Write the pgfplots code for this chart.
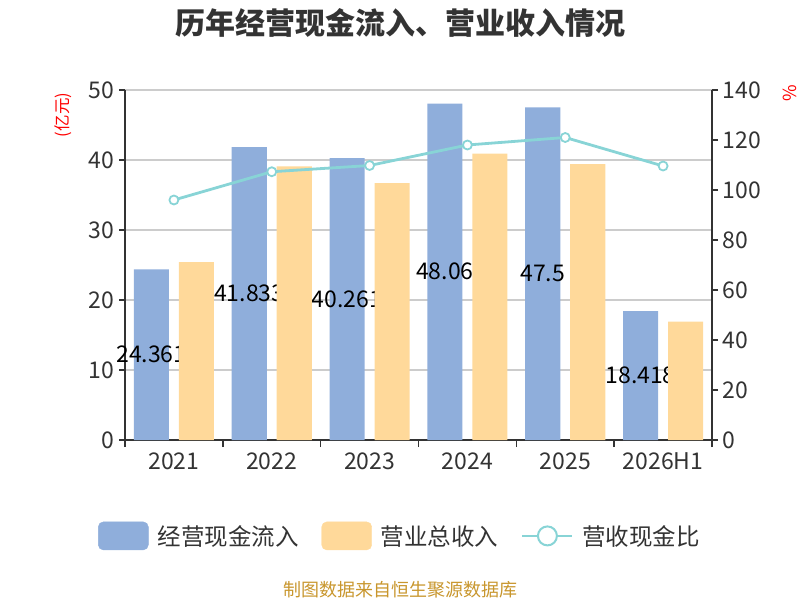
\documentclass[border=0pt]{standalone}
\usepackage{fontspec}
\setmainfont{Noto Sans CJK SC}
\usepackage{pgfplots}
\pgfplotsset{compat=1.18}
\definecolor{cblue}{HTML}{8FAEDB}
\definecolor{corange}{HTML}{FFD99A}
\definecolor{cteal}{HTML}{88D4D6}
\definecolor{ctext}{HTML}{333333}
\definecolor{cgrid}{HTML}{CCCCCC}
\definecolor{csrc}{HTML}{C8962D}
\newcommand{\tickfont}{\fontsize{23}{23}\selectfont}
\pgfplotsset{base/.style={
  at={(125pt,160pt)}, anchor=south west,
  scale only axis, width=587pt, height=350pt,
  xmin=-0.5, xmax=5.5, clip=false,
  /pgf/number format/assume math mode=true,
  ticklabel style={font=\tickfont, text=ctext},
}}
\begin{document}
\begin{tikzpicture}[x=1pt,y=1pt]
\path[use as bounding box] (0,0) rectangle (800,600);
% axis 1: frame, grid, first series and its labels
\begin{axis}[base, ymin=0, ymax=50,
  axis x line*=bottom, axis y line*=left,
  axis line style={draw=ctext, line width=1.4pt},
  xtick={0,...,5}, xticklabels={2021,2022,2023,2024,2025,2026H1},
  major x tick style={draw=none},
  minor xtick={-0.5,0.5,...,5.5},
  minor x tick style={draw=ctext, line width=1.4pt},
  minor tick length=7pt,
  major tick length=6pt,
  tick align=outside,
  ytick={0,10,...,50},
  ytick style={draw=ctext, line width=1.4pt},
  ymajorgrids, major grid style={draw=cgrid, line width=1.3pt},
  xticklabel style={yshift=-3pt},
  yticklabel style={xshift=-1pt},
]
\addplot[ybar, bar width=0.358, bar shift=-0.23, fill=cblue, draw=none]
  coordinates {(0,24.361) (1,41.833) (2,40.261) (3,48.06) (4,47.5) (5,18.418)};
\addplot[draw=none, mark=none, nodes near coords, point meta=explicit symbolic,
  nodes near coords style={anchor=center, font=\fontsize{23}{23}\selectfont, text=black}]
  table[meta=label] {
x y label
-0.23 12.18 24.361
0.77 20.92 41.833
1.77 20.13 40.261
2.77 24.03 48.06
3.77 23.75 47.5
4.77 9.21 18.418
};
\end{axis}
% axis 2: second series, drawn over the labels
\begin{axis}[base, ymin=0, ymax=50, axis lines=none, xtick=\empty, ytick=\empty]
\addplot[ybar, bar width=0.358, bar shift=0.23, fill=corange, draw=none]
  coordinates {(0,25.4) (1,39.1) (2,36.7) (3,40.9) (4,39.4) (5,16.9)};
\end{axis}
% axis 3: ratio on the right axis
\begin{axis}[base, ymin=0, ymax=140,
  axis x line=none, axis y line*=right,
  axis line style={draw=ctext, line width=1.4pt},
  ytick={0,20,...,140},
  ytick style={draw=ctext, line width=1.4pt},
  major tick length=6pt, tick align=outside,
  yticklabel style={xshift=1pt},
  legend columns=3,
  legend style={draw=none, fill=none, at={(0.4685,-0.274)}, anchor=center,
    font=\fontsize{23.5}{23.5}\selectfont, text=ctext,
    /tikz/every even column/.append style={column sep=21pt},
    /tikz/every odd column/.append style={column sep=7pt}},
]
\addlegendimage{legend image code/.code={\fill[cblue, rounded corners=5pt] (0pt,-14pt) rectangle (50pt,14pt);}}
\addlegendentry{经营现金流入}
\addlegendimage{legend image code/.code={\fill[corange, rounded corners=5pt] (0pt,-14pt) rectangle (50pt,14pt);}}
\addlegendentry{营业总收入}
\addplot[cteal, line width=2.8pt, mark=*, mark size=4.5pt,
  mark options={fill=white, draw=cteal, line width=1.8pt},
  legend image code/.code={\draw[cteal, line width=2pt] (0pt,0pt) -- (50pt,0pt);
    \draw[cteal, line width=2pt, fill=white] (25pt,0pt) circle (9.5pt);}]
  coordinates {(0,96) (1,107.3) (2,109.8) (3,118) (4,121) (5,109.6)};
\addlegendentry{营收现金比}
\end{axis}
\node[font=\fontsize{30}{30}\selectfont\bfseries, text=ctext] at (400,577) {历年经营现金流入、营业收入情况};
\node[rotate=90, text=red, font=\fontsize{16.5}{16.5}\selectfont] at (63,485) {(亿元)};
\node[rotate=90, text=red, font=\fontsize{18}{18}\selectfont] at (790,507) {\%};
\node[text=csrc, font=\fontsize{18}{18}\selectfont] at (400,10) {制图数据来自恒生聚源数据库};
\end{tikzpicture}
\end{document}
